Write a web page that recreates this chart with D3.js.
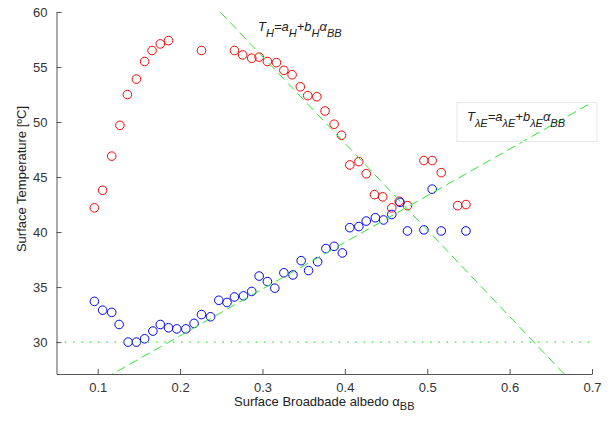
<!DOCTYPE html>
<html>
<head>
<meta charset="utf-8">
<script src="https://cdnjs.cloudflare.com/ajax/libs/d3/7.8.5/d3.min.js"></script>
<style>
  body { margin: 0; background: #fff; }
  text { font-family: "Liberation Sans", Arial, sans-serif; }
</style>
</head>
<body>
<div id="chart"></div>
<script>
// surface temperature T_H (red) vs broadband albedo
var alphaH = [0.096, 0.106, 0.117, 0.127, 0.136, 0.147, 0.157, 0.166, 0.176, 0.186,
  0.226, 0.266, 0.276, 0.287, 0.296, 0.306, 0.317, 0.326, 0.336, 0.346,
  0.355, 0.366, 0.376, 0.387, 0.396, 0.406, 0.417, 0.426, 0.436, 0.446,
  0.457, 0.466, 0.476, 0.496, 0.506, 0.517, 0.537, 0.547];
var tempH = [42.2, 43.8, 46.9, 49.7, 52.5, 53.9, 55.5, 56.5, 57.1, 57.4,
  56.5, 56.5, 56.1, 55.8, 55.9, 55.5, 55.4, 54.7, 54.3, 53.2,
  52.4, 52.3, 51.0, 49.8, 48.8, 46.1, 46.4, 45.3, 43.4, 43.2,
  42.2, 42.8, 42.4, 46.5, 46.5, 45.4, 42.4, 42.5];

// surface temperature T_lambdaE (blue)
var alphaLE = [0.096, 0.106, 0.117, 0.126, 0.137, 0.147, 0.157, 0.167, 0.176, 0.186,
  0.196, 0.207, 0.217, 0.226, 0.237, 0.247, 0.257, 0.266, 0.277, 0.287,
  0.296, 0.306, 0.315, 0.326, 0.337, 0.347, 0.356, 0.367, 0.377, 0.387,
  0.397, 0.406, 0.417, 0.426, 0.437, 0.447, 0.457, 0.467, 0.476, 0.496,
  0.506, 0.517, 0.547];
var tempLE = [33.7, 32.9, 32.7, 31.6, 30.0, 30.0, 30.3, 31.0, 31.6, 31.3,
  31.2, 31.2, 31.7, 32.5, 32.3, 33.8, 33.6, 34.1, 34.2, 34.6,
  36.0, 35.5, 34.9, 36.3, 36.1, 37.4, 36.5, 37.3, 38.5, 38.7,
  38.1, 40.4, 40.5, 41.0, 41.3, 41.1, 41.6, 42.7, 40.1, 40.2,
  43.9, 40.1, 40.1];

// fitted lines T = a + b * alpha
var fitH = [79.6, -78.8];
var fitLE = [22.1, 42.4];
var refTemp = 30;

var xTicks = [0.1, 0.2, 0.3, 0.4, 0.5, 0.6, 0.7];
var yTicks = [30, 35, 40, 45, 50, 55, 60];

var width = 614, height = 425;
var margin = { left: 56.5, right: 592, top: 12, bottom: 374 };

var svg = d3.select("#chart").append("svg")
  .attr("width", width)
  .attr("height", height);

var x = d3.scaleLinear().domain([0.05, 0.7]).range([margin.left, margin.right]);
var y = d3.scaleLinear().domain([27.1, 60]).range([margin.bottom, margin.top]);

svg.append("clipPath").attr("id", "plotclip")
  .append("rect")
  .attr("x", margin.left).attr("y", margin.top)
  .attr("width", margin.right - margin.left)
  .attr("height", margin.bottom - margin.top);

var plot = svg.append("g").attr("clip-path", "url(#plotclip)");

// markers
plot.selectAll("circle.h")
  .data(d3.zip(alphaH, tempH))
  .enter().append("circle")
  .attr("class", "h")
  .attr("cx", function (d) { return x(d[0]); })
  .attr("cy", function (d) { return y(d[1]); })
  .attr("r", 4.3)
  .attr("fill", "none")
  .attr("stroke", "#ff0000")
  .attr("stroke-width", 1);

plot.selectAll("circle.le")
  .data(d3.zip(alphaLE, tempLE))
  .enter().append("circle")
  .attr("class", "le")
  .attr("cx", function (d) { return x(d[0]); })
  .attr("cy", function (d) { return y(d[1]); })
  .attr("r", 4.3)
  .attr("fill", "none")
  .attr("stroke", "#0000ff")
  .attr("stroke-width", 1);

// fit lines
var green = "#2ee62e";
var ends = x.domain();
function fitLine(f) {
  return d3.line()
    .x(function (a) { return x(a); })
    .y(function (a) { return y(f[0] + f[1] * a); })(ends);
}
plot.append("path").attr("d", fitLine(fitH))
  .attr("fill", "none").attr("stroke", green)
  .attr("stroke-width", 1).attr("stroke-dasharray", "9,5");
plot.append("path").attr("d", fitLine(fitLE))
  .attr("fill", "none").attr("stroke", green)
  .attr("stroke-width", 1).attr("stroke-dasharray", "9,5");
plot.append("path").attr("d", fitLine([refTemp, 0]))
  .attr("fill", "none").attr("stroke", green)
  .attr("stroke-width", 1.3).attr("stroke-dasharray", "1.5,6.8");

// axes
var axisColor = "#555";
var xAxis = svg.append("g")
  .attr("transform", "translate(0," + margin.bottom + ")")
  .call(d3.axisBottom(x).tickValues(xTicks).tickSizeInner(-5).tickSizeOuter(0)
    .tickPadding(9).tickFormat(d3.format(".1f")));
var yAxis = svg.append("g")
  .attr("transform", "translate(" + margin.left + ",0)")
  .call(d3.axisLeft(y).tickValues(yTicks).tickSizeInner(-5).tickSizeOuter(0)
    .tickPadding(9).tickFormat(d3.format("d")));

[xAxis, yAxis].forEach(function (g) {
  g.select(".domain").attr("stroke", axisColor);
  g.selectAll(".tick line").attr("stroke", axisColor);
  g.selectAll(".tick text")
    .attr("fill", "#333")
    .style("font-size", "13px")
    .style("font-family", "'Liberation Sans', Arial, sans-serif");
});

// axis labels
var xl = svg.append("text")
  .attr("x", (margin.left + margin.right) / 2)
  .attr("y", 406)
  .attr("text-anchor", "middle")
  .attr("fill", "#222")
  .style("font-size", "13px");
xl.append("tspan").text("Surface Broadbade albedo \u03b1");
xl.append("tspan").attr("dy", 4).style("font-size", "11px").text("BB");

svg.append("text")
  .attr("transform", "translate(26," + ((margin.top + margin.bottom) / 2 - 14) + ") rotate(-90)")
  .attr("text-anchor", "middle")
  .attr("fill", "#222")
  .style("font-size", "13px")
  .text("Surface Temperature [\u00baC]");

// equation labels
function equation(px, py, sub) {
  var t = svg.append("text")
    .attr("x", px).attr("y", py)
    .attr("fill", "#222")
    .style("font-size", "13px")
    .style("font-style", "italic");
  var parts = [["T", 0], [sub, 1], ["=a", 0], [sub, 1], ["+b", 0], [sub, 1], ["\u03b1", 0], ["BB", 1]];
  var lvl = 0;
  parts.forEach(function (p) {
    var dy = (p[1] - lvl) * 6;
    lvl = p[1];
    t.append("tspan")
      .attr("dy", dy)
      .style("font-size", p[1] ? "11px" : "13px")
      .text(p[0]);
  });
}
equation(258, 31, "H");

svg.append("rect")
  .attr("x", 457).attr("y", 102.5)
  .attr("width", 140).attr("height", 39)
  .attr("fill", "none")
  .attr("stroke", "#e8e8e8");
equation(467, 121, "\u03bbE");
</script>
</body>
</html>
